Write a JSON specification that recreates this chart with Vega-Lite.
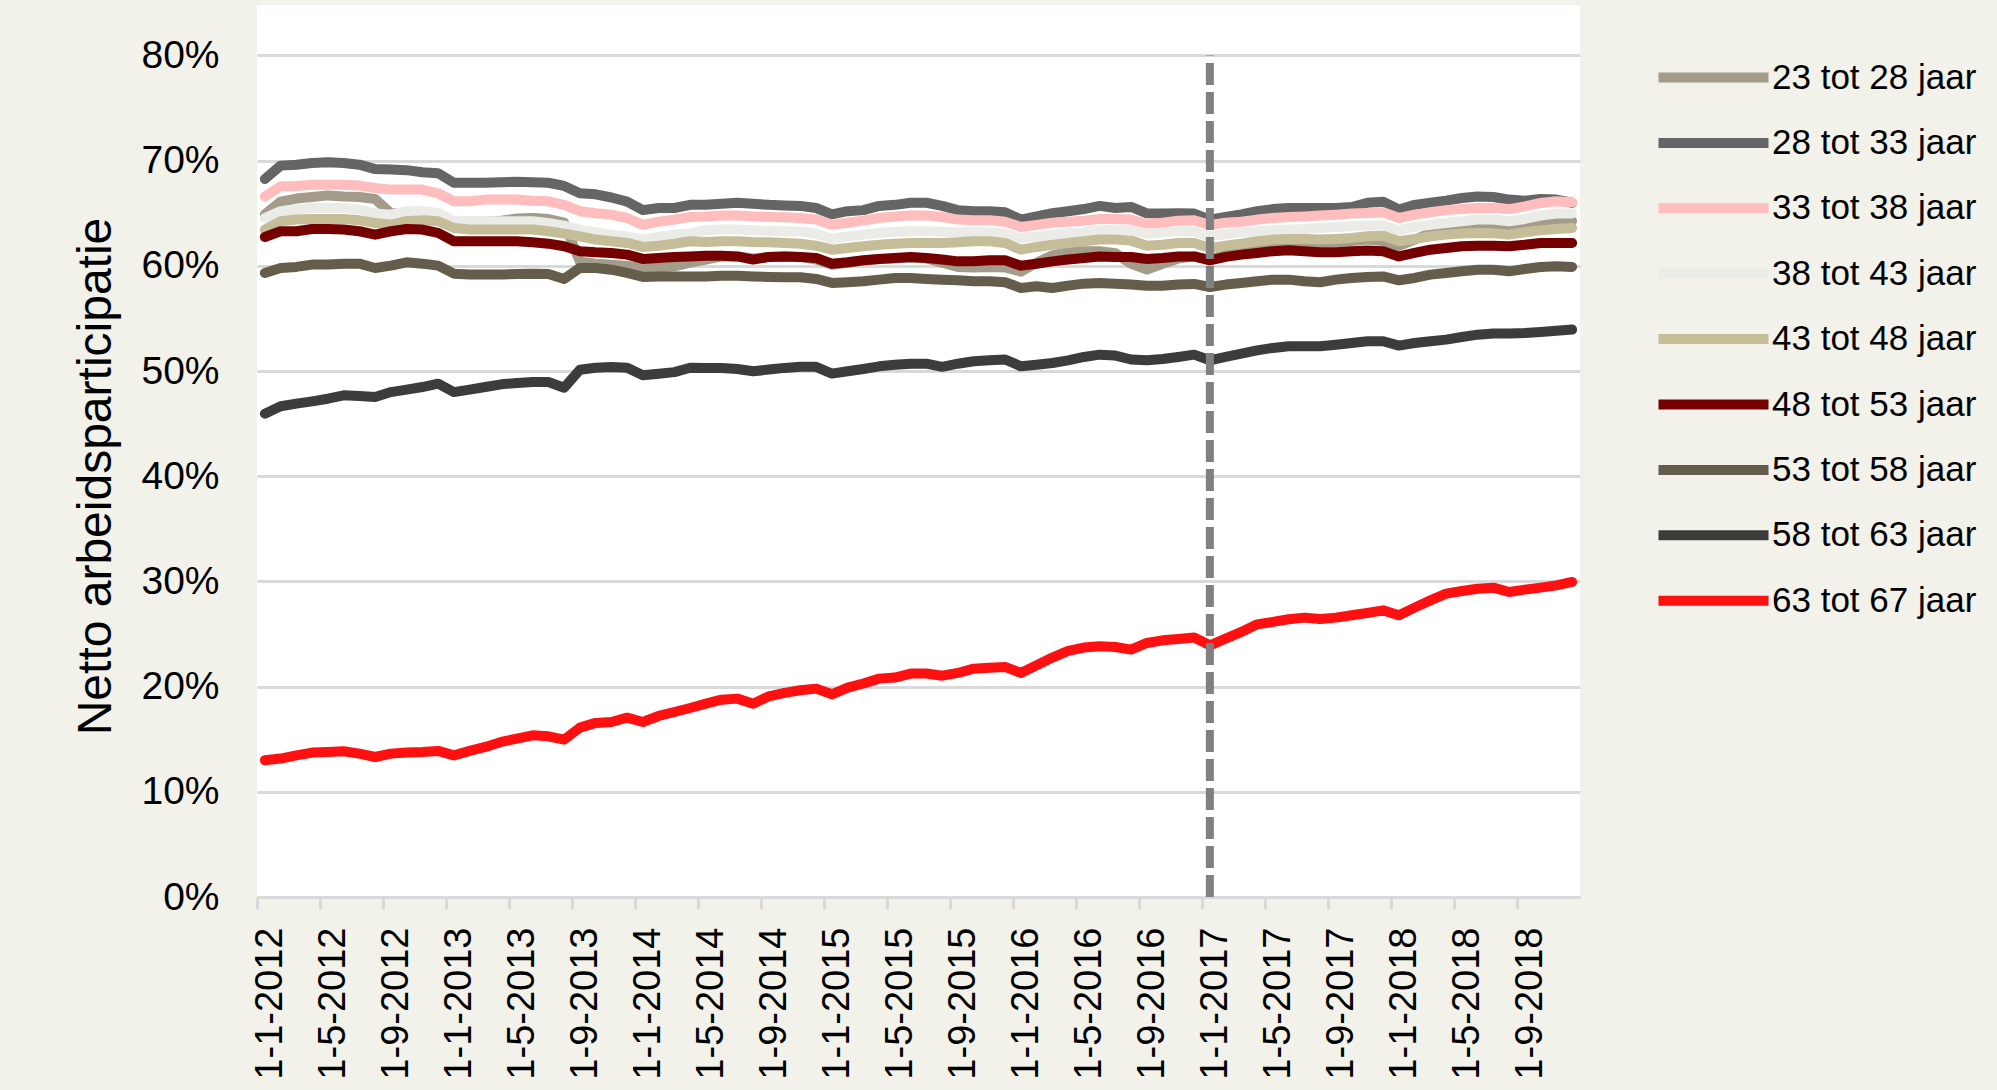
{
  "$schema": "https://vega.github.io/schema/vega-lite/v6.json",
  "width": 1323,
  "height": 892,
  "autosize": {"type": "none"},
  "padding": {"left": 257, "top": 5, "right": 417, "bottom": 193},
  "background": "#F2F1EA",
  "config": {
    "view": {"fill": "#FFFFFF", "stroke": null},
    "font": "Liberation Sans"
  },
  "datasets": {
    "reeks": [
      {"maand":"2012-01","23 tot 28 jaar":64.9,"28 tot 33 jaar":68.26,"33 tot 38 jaar":66.6,"38 tot 43 jaar":64.55,"43 tot 48 jaar":63.45,"48 tot 53 jaar":62.75,"53 tot 58 jaar":59.33,"58 tot 63 jaar":45.95,"63 tot 67 jaar":13.0},
      {"maand":"2012-02","23 tot 28 jaar":66.1,"28 tot 33 jaar":69.53,"33 tot 38 jaar":67.56,"38 tot 43 jaar":65.2,"43 tot 48 jaar":64.24,"48 tot 53 jaar":63.29,"53 tot 58 jaar":59.8,"58 tot 63 jaar":46.65,"63 tot 67 jaar":13.16},
      {"maand":"2012-03","23 tot 28 jaar":66.4,"28 tot 33 jaar":69.62,"33 tot 38 jaar":67.6,"38 tot 43 jaar":65.35,"43 tot 48 jaar":64.4,"48 tot 53 jaar":63.29,"53 tot 58 jaar":59.9,"58 tot 63 jaar":46.9,"63 tot 67 jaar":13.47},
      {"maand":"2012-04","23 tot 28 jaar":66.55,"28 tot 33 jaar":69.78,"33 tot 38 jaar":67.72,"38 tot 43 jaar":65.5,"43 tot 48 jaar":64.46,"48 tot 53 jaar":63.5,"53 tot 58 jaar":60.12,"58 tot 63 jaar":47.12,"63 tot 67 jaar":13.73},
      {"maand":"2012-05","23 tot 28 jaar":66.7,"28 tot 33 jaar":69.85,"33 tot 38 jaar":67.72,"38 tot 43 jaar":65.5,"43 tot 48 jaar":64.46,"48 tot 53 jaar":63.5,"53 tot 58 jaar":60.12,"58 tot 63 jaar":47.37,"63 tot 67 jaar":13.79},
      {"maand":"2012-06","23 tot 28 jaar":66.6,"28 tot 33 jaar":69.78,"33 tot 38 jaar":67.72,"38 tot 43 jaar":65.5,"43 tot 48 jaar":64.46,"48 tot 53 jaar":63.45,"53 tot 58 jaar":60.21,"58 tot 63 jaar":47.69,"63 tot 67 jaar":13.85},
      {"maand":"2012-07","23 tot 28 jaar":66.55,"28 tot 33 jaar":69.62,"33 tot 38 jaar":67.63,"38 tot 43 jaar":65.35,"43 tot 48 jaar":64.33,"48 tot 53 jaar":63.29,"53 tot 58 jaar":60.21,"58 tot 63 jaar":47.63,"63 tot 67 jaar":13.63},
      {"maand":"2012-08","23 tot 28 jaar":66.35,"28 tot 33 jaar":69.2,"33 tot 38 jaar":67.4,"38 tot 43 jaar":64.97,"43 tot 48 jaar":64.08,"48 tot 53 jaar":62.97,"53 tot 58 jaar":59.8,"58 tot 63 jaar":47.53,"63 tot 67 jaar":13.31},
      {"maand":"2012-09","23 tot 28 jaar":65.0,"28 tot 33 jaar":69.15,"33 tot 38 jaar":67.25,"38 tot 43 jaar":64.87,"43 tot 48 jaar":63.92,"48 tot 53 jaar":63.29,"53 tot 58 jaar":60.02,"58 tot 63 jaar":48.0,"63 tot 67 jaar":13.63},
      {"maand":"2012-10","23 tot 28 jaar":65.0,"28 tot 33 jaar":69.1,"33 tot 38 jaar":67.25,"38 tot 43 jaar":65.2,"43 tot 48 jaar":64.24,"48 tot 53 jaar":63.5,"53 tot 58 jaar":60.34,"58 tot 63 jaar":48.23,"63 tot 67 jaar":13.73},
      {"maand":"2012-11","23 tot 28 jaar":64.9,"28 tot 33 jaar":68.9,"33 tot 38 jaar":67.25,"38 tot 43 jaar":65.2,"43 tot 48 jaar":64.33,"48 tot 53 jaar":63.45,"53 tot 58 jaar":60.21,"58 tot 63 jaar":48.48,"63 tot 67 jaar":13.79},
      {"maand":"2012-12","23 tot 28 jaar":64.8,"28 tot 33 jaar":68.8,"33 tot 38 jaar":66.9,"38 tot 43 jaar":65.03,"43 tot 48 jaar":64.24,"48 tot 53 jaar":63.13,"53 tot 58 jaar":60.02,"58 tot 63 jaar":48.8,"63 tot 67 jaar":13.89},
      {"maand":"2013-01","23 tot 28 jaar":64.2,"28 tot 33 jaar":67.9,"33 tot 38 jaar":66.14,"38 tot 43 jaar":64.24,"43 tot 48 jaar":63.6,"48 tot 53 jaar":62.34,"53 tot 58 jaar":59.26,"58 tot 63 jaar":48.0,"63 tot 67 jaar":13.47},
      {"maand":"2013-02","23 tot 28 jaar":64.2,"28 tot 33 jaar":67.9,"33 tot 38 jaar":66.14,"38 tot 43 jaar":64.24,"43 tot 48 jaar":63.45,"48 tot 53 jaar":62.34,"53 tot 58 jaar":59.17,"58 tot 63 jaar":48.23,"63 tot 67 jaar":13.89},
      {"maand":"2013-03","23 tot 28 jaar":64.2,"28 tot 33 jaar":67.9,"33 tot 38 jaar":66.3,"38 tot 43 jaar":64.24,"43 tot 48 jaar":63.45,"48 tot 53 jaar":62.34,"53 tot 58 jaar":59.17,"58 tot 63 jaar":48.48,"63 tot 67 jaar":14.27},
      {"maand":"2013-04","23 tot 28 jaar":64.3,"28 tot 33 jaar":67.95,"33 tot 38 jaar":66.3,"38 tot 43 jaar":64.24,"43 tot 48 jaar":63.45,"48 tot 53 jaar":62.34,"53 tot 58 jaar":59.17,"58 tot 63 jaar":48.74,"63 tot 67 jaar":14.74},
      {"maand":"2013-05","23 tot 28 jaar":64.5,"28 tot 33 jaar":68.0,"33 tot 38 jaar":66.3,"38 tot 43 jaar":64.24,"43 tot 48 jaar":63.45,"48 tot 53 jaar":62.34,"53 tot 58 jaar":59.23,"58 tot 63 jaar":48.87,"63 tot 67 jaar":15.06},
      {"maand":"2013-06","23 tot 28 jaar":64.55,"28 tot 33 jaar":67.95,"33 tot 38 jaar":66.2,"38 tot 43 jaar":64.24,"43 tot 48 jaar":63.45,"48 tot 53 jaar":62.24,"53 tot 58 jaar":59.26,"58 tot 63 jaar":48.96,"63 tot 67 jaar":15.37},
      {"maand":"2013-07","23 tot 28 jaar":64.45,"28 tot 33 jaar":67.9,"33 tot 38 jaar":66.14,"38 tot 43 jaar":64.08,"43 tot 48 jaar":63.29,"48 tot 53 jaar":62.11,"53 tot 58 jaar":59.23,"58 tot 63 jaar":48.96,"63 tot 67 jaar":15.28},
      {"maand":"2013-08","23 tot 28 jaar":64.1,"28 tot 33 jaar":67.6,"33 tot 38 jaar":65.8,"38 tot 43 jaar":63.83,"43 tot 48 jaar":63.07,"48 tot 53 jaar":61.86,"53 tot 58 jaar":58.76,"58 tot 63 jaar":48.42,"63 tot 67 jaar":14.96},
      {"maand":"2013-09","23 tot 28 jaar":60.4,"28 tot 33 jaar":66.9,"33 tot 38 jaar":65.2,"38 tot 43 jaar":63.45,"43 tot 48 jaar":62.81,"48 tot 53 jaar":61.39,"53 tot 58 jaar":59.8,"58 tot 63 jaar":50.13,"63 tot 67 jaar":16.1},
      {"maand":"2013-10","23 tot 28 jaar":60.2,"28 tot 33 jaar":66.8,"33 tot 38 jaar":65.0,"38 tot 43 jaar":63.2,"43 tot 48 jaar":62.5,"48 tot 53 jaar":61.29,"53 tot 58 jaar":59.8,"58 tot 63 jaar":50.32,"63 tot 67 jaar":16.55},
      {"maand":"2013-11","23 tot 28 jaar":60.1,"28 tot 33 jaar":66.5,"33 tot 38 jaar":64.87,"38 tot 43 jaar":62.97,"43 tot 48 jaar":62.34,"48 tot 53 jaar":61.23,"53 tot 58 jaar":59.64,"58 tot 63 jaar":50.38,"63 tot 67 jaar":16.64},
      {"maand":"2013-12","23 tot 28 jaar":60.0,"28 tot 33 jaar":66.1,"33 tot 38 jaar":64.55,"38 tot 43 jaar":62.8,"43 tot 48 jaar":62.18,"48 tot 53 jaar":61.07,"53 tot 58 jaar":59.33,"58 tot 63 jaar":50.32,"63 tot 67 jaar":17.05},
      {"maand":"2014-01","23 tot 28 jaar":59.8,"28 tot 33 jaar":65.3,"33 tot 38 jaar":63.9,"38 tot 43 jaar":62.5,"43 tot 48 jaar":61.8,"48 tot 53 jaar":60.66,"53 tot 58 jaar":58.95,"58 tot 63 jaar":49.6,"63 tot 67 jaar":16.64},
      {"maand":"2014-02","23 tot 28 jaar":59.8,"28 tot 33 jaar":65.5,"33 tot 38 jaar":64.2,"38 tot 43 jaar":62.75,"43 tot 48 jaar":61.92,"48 tot 53 jaar":60.75,"53 tot 58 jaar":59.0,"58 tot 63 jaar":49.75,"63 tot 67 jaar":17.21},
      {"maand":"2014-03","23 tot 28 jaar":59.95,"28 tot 33 jaar":65.5,"33 tot 38 jaar":64.4,"38 tot 43 jaar":62.97,"43 tot 48 jaar":62.1,"48 tot 53 jaar":60.85,"53 tot 58 jaar":59.0,"58 tot 63 jaar":49.9,"63 tot 67 jaar":17.59},
      {"maand":"2014-04","23 tot 28 jaar":60.3,"28 tot 33 jaar":65.8,"33 tot 38 jaar":64.65,"38 tot 43 jaar":63.1,"43 tot 48 jaar":62.34,"48 tot 53 jaar":60.9,"53 tot 58 jaar":59.0,"58 tot 63 jaar":50.32,"63 tot 67 jaar":17.97},
      {"maand":"2014-05","23 tot 28 jaar":60.6,"28 tot 33 jaar":65.8,"33 tot 38 jaar":64.7,"38 tot 43 jaar":63.38,"43 tot 48 jaar":62.27,"48 tot 53 jaar":60.97,"53 tot 58 jaar":59.0,"58 tot 63 jaar":50.3,"63 tot 67 jaar":18.38},
      {"maand":"2014-06","23 tot 28 jaar":60.9,"28 tot 33 jaar":65.9,"33 tot 38 jaar":64.8,"38 tot 43 jaar":63.45,"43 tot 48 jaar":62.34,"48 tot 53 jaar":60.97,"53 tot 58 jaar":59.07,"58 tot 63 jaar":50.3,"63 tot 67 jaar":18.76},
      {"maand":"2014-07","23 tot 28 jaar":60.9,"28 tot 33 jaar":66.0,"33 tot 38 jaar":64.8,"38 tot 43 jaar":63.45,"43 tot 48 jaar":62.34,"48 tot 53 jaar":60.9,"53 tot 58 jaar":59.07,"58 tot 63 jaar":50.2,"63 tot 67 jaar":18.86},
      {"maand":"2014-08","23 tot 28 jaar":60.7,"28 tot 33 jaar":65.9,"33 tot 38 jaar":64.7,"38 tot 43 jaar":63.38,"43 tot 48 jaar":62.27,"48 tot 53 jaar":60.6,"53 tot 58 jaar":59.0,"58 tot 63 jaar":49.98,"63 tot 67 jaar":18.38},
      {"maand":"2014-09","23 tot 28 jaar":60.85,"28 tot 33 jaar":65.8,"33 tot 38 jaar":64.65,"38 tot 43 jaar":63.32,"43 tot 48 jaar":62.24,"48 tot 53 jaar":60.85,"53 tot 58 jaar":58.95,"58 tot 63 jaar":50.14,"63 tot 67 jaar":19.08},
      {"maand":"2014-10","23 tot 28 jaar":60.9,"28 tot 33 jaar":65.75,"33 tot 38 jaar":64.62,"38 tot 43 jaar":63.29,"43 tot 48 jaar":62.18,"48 tot 53 jaar":60.9,"53 tot 58 jaar":58.92,"58 tot 63 jaar":50.3,"63 tot 67 jaar":19.4},
      {"maand":"2014-11","23 tot 28 jaar":60.85,"28 tot 33 jaar":65.7,"33 tot 38 jaar":64.55,"38 tot 43 jaar":63.27,"43 tot 48 jaar":62.11,"48 tot 53 jaar":60.85,"53 tot 58 jaar":58.92,"58 tot 63 jaar":50.4,"63 tot 67 jaar":19.65},
      {"maand":"2014-12","23 tot 28 jaar":60.6,"28 tot 33 jaar":65.5,"33 tot 38 jaar":64.4,"38 tot 43 jaar":63.07,"43 tot 48 jaar":61.92,"48 tot 53 jaar":60.75,"53 tot 58 jaar":58.76,"58 tot 63 jaar":50.4,"63 tot 67 jaar":19.81},
      {"maand":"2015-01","23 tot 28 jaar":60.1,"28 tot 33 jaar":64.9,"33 tot 38 jaar":63.9,"38 tot 43 jaar":62.56,"43 tot 48 jaar":61.54,"48 tot 53 jaar":60.2,"53 tot 58 jaar":58.38,"58 tot 63 jaar":49.76,"63 tot 67 jaar":19.27},
      {"maand":"2015-02","23 tot 28 jaar":60.3,"28 tot 33 jaar":65.2,"33 tot 38 jaar":64.1,"38 tot 43 jaar":62.8,"43 tot 48 jaar":61.7,"48 tot 53 jaar":60.34,"53 tot 58 jaar":58.44,"58 tot 63 jaar":49.98,"63 tot 67 jaar":19.9},
      {"maand":"2015-03","23 tot 28 jaar":60.5,"28 tot 33 jaar":65.3,"33 tot 38 jaar":64.3,"38 tot 43 jaar":62.97,"43 tot 48 jaar":61.86,"48 tot 53 jaar":60.53,"53 tot 58 jaar":58.53,"58 tot 63 jaar":50.2,"63 tot 67 jaar":20.3},
      {"maand":"2015-04","23 tot 28 jaar":60.65,"28 tot 33 jaar":65.7,"33 tot 38 jaar":64.55,"38 tot 43 jaar":63.13,"43 tot 48 jaar":62.0,"48 tot 53 jaar":60.66,"53 tot 58 jaar":58.69,"58 tot 63 jaar":50.45,"63 tot 67 jaar":20.76},
      {"maand":"2015-05","23 tot 28 jaar":60.7,"28 tot 33 jaar":65.8,"33 tot 38 jaar":64.7,"38 tot 43 jaar":63.25,"43 tot 48 jaar":62.11,"48 tot 53 jaar":60.75,"53 tot 58 jaar":58.85,"58 tot 63 jaar":50.6,"63 tot 67 jaar":20.86},
      {"maand":"2015-06","23 tot 28 jaar":60.8,"28 tot 33 jaar":66.0,"33 tot 38 jaar":64.8,"38 tot 43 jaar":63.29,"43 tot 48 jaar":62.18,"48 tot 53 jaar":60.85,"53 tot 58 jaar":58.85,"58 tot 63 jaar":50.7,"63 tot 67 jaar":21.24},
      {"maand":"2015-07","23 tot 28 jaar":60.7,"28 tot 33 jaar":66.0,"33 tot 38 jaar":64.8,"38 tot 43 jaar":63.29,"43 tot 48 jaar":62.18,"48 tot 53 jaar":60.75,"53 tot 58 jaar":58.76,"58 tot 63 jaar":50.7,"63 tot 67 jaar":21.24},
      {"maand":"2015-08","23 tot 28 jaar":60.3,"28 tot 33 jaar":65.7,"33 tot 38 jaar":64.65,"38 tot 43 jaar":63.25,"43 tot 48 jaar":62.18,"48 tot 53 jaar":60.6,"53 tot 58 jaar":58.69,"58 tot 63 jaar":50.4,"63 tot 67 jaar":21.04},
      {"maand":"2015-09","23 tot 28 jaar":59.9,"28 tot 33 jaar":65.3,"33 tot 38 jaar":64.4,"38 tot 43 jaar":63.2,"43 tot 48 jaar":62.24,"48 tot 53 jaar":60.43,"53 tot 58 jaar":58.63,"58 tot 63 jaar":50.7,"63 tot 67 jaar":21.3},
      {"maand":"2015-10","23 tot 28 jaar":59.85,"28 tot 33 jaar":65.2,"33 tot 38 jaar":64.33,"38 tot 43 jaar":63.2,"43 tot 48 jaar":62.34,"48 tot 53 jaar":60.43,"53 tot 58 jaar":58.53,"58 tot 63 jaar":50.93,"63 tot 67 jaar":21.71},
      {"maand":"2015-11","23 tot 28 jaar":59.9,"28 tot 33 jaar":65.2,"33 tot 38 jaar":64.33,"38 tot 43 jaar":63.2,"43 tot 48 jaar":62.34,"48 tot 53 jaar":60.53,"53 tot 58 jaar":58.53,"58 tot 63 jaar":51.02,"63 tot 67 jaar":21.8},
      {"maand":"2015-12","23 tot 28 jaar":59.85,"28 tot 33 jaar":65.1,"33 tot 38 jaar":64.2,"38 tot 43 jaar":63.07,"43 tot 48 jaar":62.18,"48 tot 53 jaar":60.53,"53 tot 58 jaar":58.44,"58 tot 63 jaar":51.1,"63 tot 67 jaar":21.87},
      {"maand":"2016-01","23 tot 28 jaar":59.45,"28 tot 33 jaar":64.4,"33 tot 38 jaar":63.7,"38 tot 43 jaar":62.65,"43 tot 48 jaar":61.54,"48 tot 53 jaar":60.02,"53 tot 58 jaar":57.9,"58 tot 63 jaar":50.45,"63 tot 67 jaar":21.3},
      {"maand":"2016-02","23 tot 28 jaar":60.3,"28 tot 33 jaar":64.7,"33 tot 38 jaar":63.9,"38 tot 43 jaar":62.8,"43 tot 48 jaar":61.8,"48 tot 53 jaar":60.2,"53 tot 58 jaar":58.06,"58 tot 63 jaar":50.6,"63 tot 67 jaar":22.03},
      {"maand":"2016-03","23 tot 28 jaar":61.0,"28 tot 33 jaar":65.0,"33 tot 38 jaar":64.1,"38 tot 43 jaar":62.97,"43 tot 48 jaar":62.0,"48 tot 53 jaar":60.43,"53 tot 58 jaar":57.9,"58 tot 63 jaar":50.77,"63 tot 67 jaar":22.76},
      {"maand":"2016-04","23 tot 28 jaar":61.3,"28 tot 33 jaar":65.2,"33 tot 38 jaar":64.2,"38 tot 43 jaar":63.07,"43 tot 48 jaar":62.18,"48 tot 53 jaar":60.6,"53 tot 58 jaar":58.12,"58 tot 63 jaar":51.02,"63 tot 67 jaar":23.39},
      {"maand":"2016-05","23 tot 28 jaar":61.4,"28 tot 33 jaar":65.4,"33 tot 38 jaar":64.3,"38 tot 43 jaar":63.2,"43 tot 48 jaar":62.34,"48 tot 53 jaar":60.75,"53 tot 58 jaar":58.31,"58 tot 63 jaar":51.34,"63 tot 67 jaar":23.71},
      {"maand":"2016-06","23 tot 28 jaar":61.4,"28 tot 33 jaar":65.7,"33 tot 38 jaar":64.45,"38 tot 43 jaar":63.38,"43 tot 48 jaar":62.5,"48 tot 53 jaar":60.9,"53 tot 58 jaar":58.38,"58 tot 63 jaar":51.56,"63 tot 67 jaar":23.83},
      {"maand":"2016-07","23 tot 28 jaar":61.2,"28 tot 33 jaar":65.5,"33 tot 38 jaar":64.45,"38 tot 43 jaar":63.45,"43 tot 48 jaar":62.5,"48 tot 53 jaar":60.85,"53 tot 58 jaar":58.31,"58 tot 63 jaar":51.47,"63 tot 67 jaar":23.77},
      {"maand":"2016-08","23 tot 28 jaar":60.2,"28 tot 33 jaar":65.6,"33 tot 38 jaar":64.4,"38 tot 43 jaar":63.4,"43 tot 48 jaar":62.4,"48 tot 53 jaar":60.85,"53 tot 58 jaar":58.22,"58 tot 63 jaar":51.1,"63 tot 67 jaar":23.52},
      {"maand":"2016-09","23 tot 28 jaar":59.65,"28 tot 33 jaar":65.0,"33 tot 38 jaar":64.0,"38 tot 43 jaar":63.03,"43 tot 48 jaar":61.92,"48 tot 53 jaar":60.66,"53 tot 58 jaar":58.12,"58 tot 63 jaar":51.02,"63 tot 67 jaar":24.15},
      {"maand":"2016-10","23 tot 28 jaar":60.2,"28 tot 33 jaar":64.97,"33 tot 38 jaar":64.1,"38 tot 43 jaar":63.2,"43 tot 48 jaar":62.0,"48 tot 53 jaar":60.75,"53 tot 58 jaar":58.12,"58 tot 63 jaar":51.15,"63 tot 67 jaar":24.4},
      {"maand":"2016-11","23 tot 28 jaar":60.7,"28 tot 33 jaar":65.0,"33 tot 38 jaar":64.3,"38 tot 43 jaar":63.29,"43 tot 48 jaar":62.18,"48 tot 53 jaar":60.9,"53 tot 58 jaar":58.22,"58 tot 63 jaar":51.34,"63 tot 67 jaar":24.53},
      {"maand":"2016-12","23 tot 28 jaar":60.9,"28 tot 33 jaar":64.97,"33 tot 38 jaar":64.33,"38 tot 43 jaar":63.27,"43 tot 48 jaar":62.18,"48 tot 53 jaar":60.9,"53 tot 58 jaar":58.28,"58 tot 63 jaar":51.56,"63 tot 67 jaar":24.66},
      {"maand":"2017-01","23 tot 28 jaar":60.6,"28 tot 33 jaar":64.4,"33 tot 38 jaar":63.9,"38 tot 43 jaar":62.8,"43 tot 48 jaar":61.7,"48 tot 53 jaar":60.53,"53 tot 58 jaar":57.99,"58 tot 63 jaar":51.02,"63 tot 67 jaar":23.93},
      {"maand":"2017-02","23 tot 28 jaar":61.05,"28 tot 33 jaar":64.65,"33 tot 38 jaar":64.1,"38 tot 43 jaar":63.03,"43 tot 48 jaar":61.92,"48 tot 53 jaar":60.85,"53 tot 58 jaar":58.22,"58 tot 63 jaar":51.34,"63 tot 67 jaar":24.56},
      {"maand":"2017-03","23 tot 28 jaar":61.4,"28 tot 33 jaar":64.9,"33 tot 38 jaar":64.2,"38 tot 43 jaar":63.2,"43 tot 48 jaar":62.11,"48 tot 53 jaar":61.07,"53 tot 58 jaar":58.38,"58 tot 63 jaar":51.66,"63 tot 67 jaar":25.2},
      {"maand":"2017-04","23 tot 28 jaar":61.7,"28 tot 33 jaar":65.2,"33 tot 38 jaar":64.4,"38 tot 43 jaar":63.29,"43 tot 48 jaar":62.34,"48 tot 53 jaar":61.23,"53 tot 58 jaar":58.53,"58 tot 63 jaar":51.97,"63 tot 67 jaar":25.92},
      {"maand":"2017-05","23 tot 28 jaar":61.9,"28 tot 33 jaar":65.4,"33 tot 38 jaar":64.55,"38 tot 43 jaar":63.38,"43 tot 48 jaar":62.5,"48 tot 53 jaar":61.39,"53 tot 58 jaar":58.69,"58 tot 63 jaar":52.2,"63 tot 67 jaar":26.15},
      {"maand":"2017-06","23 tot 28 jaar":62.1,"28 tot 33 jaar":65.5,"33 tot 38 jaar":64.65,"38 tot 43 jaar":63.45,"43 tot 48 jaar":62.56,"48 tot 53 jaar":61.48,"53 tot 58 jaar":58.69,"58 tot 63 jaar":52.35,"63 tot 67 jaar":26.4},
      {"maand":"2017-07","23 tot 28 jaar":62.2,"28 tot 33 jaar":65.5,"33 tot 38 jaar":64.7,"38 tot 43 jaar":63.5,"43 tot 48 jaar":62.56,"48 tot 53 jaar":61.39,"53 tot 58 jaar":58.53,"58 tot 63 jaar":52.35,"63 tot 67 jaar":26.56},
      {"maand":"2017-08","23 tot 28 jaar":62.2,"28 tot 33 jaar":65.5,"33 tot 38 jaar":64.78,"38 tot 43 jaar":63.6,"43 tot 48 jaar":62.5,"48 tot 53 jaar":61.29,"53 tot 58 jaar":58.44,"58 tot 63 jaar":52.35,"63 tot 67 jaar":26.43},
      {"maand":"2017-09","23 tot 28 jaar":62.25,"28 tot 33 jaar":65.5,"33 tot 38 jaar":64.87,"38 tot 43 jaar":63.7,"43 tot 48 jaar":62.56,"48 tot 53 jaar":61.29,"53 tot 58 jaar":58.69,"58 tot 63 jaar":52.5,"63 tot 67 jaar":26.56},
      {"maand":"2017-10","23 tot 28 jaar":62.35,"28 tot 33 jaar":65.6,"33 tot 38 jaar":64.97,"38 tot 43 jaar":63.76,"43 tot 48 jaar":62.65,"48 tot 53 jaar":61.39,"53 tot 58 jaar":58.85,"58 tot 63 jaar":52.67,"63 tot 67 jaar":26.78},
      {"maand":"2017-11","23 tot 28 jaar":62.5,"28 tot 33 jaar":66.0,"33 tot 38 jaar":65.03,"38 tot 43 jaar":63.83,"43 tot 48 jaar":62.81,"48 tot 53 jaar":61.45,"53 tot 58 jaar":58.95,"58 tot 63 jaar":52.83,"63 tot 67 jaar":27.0},
      {"maand":"2017-12","23 tot 28 jaar":62.35,"28 tot 33 jaar":66.1,"33 tot 38 jaar":65.1,"38 tot 43 jaar":63.83,"43 tot 48 jaar":62.87,"48 tot 53 jaar":61.39,"53 tot 58 jaar":59.0,"58 tot 63 jaar":52.83,"63 tot 67 jaar":27.25},
      {"maand":"2018-01","23 tot 28 jaar":61.9,"28 tot 33 jaar":65.35,"33 tot 38 jaar":64.55,"38 tot 43 jaar":63.38,"43 tot 48 jaar":62.34,"48 tot 53 jaar":60.9,"53 tot 58 jaar":58.63,"58 tot 63 jaar":52.42,"63 tot 67 jaar":26.78},
      {"maand":"2018-02","23 tot 28 jaar":62.5,"28 tot 33 jaar":65.8,"33 tot 38 jaar":64.87,"38 tot 43 jaar":63.7,"43 tot 48 jaar":62.56,"48 tot 53 jaar":61.23,"53 tot 58 jaar":58.85,"58 tot 63 jaar":52.67,"63 tot 67 jaar":27.51},
      {"maand":"2018-03","23 tot 28 jaar":63.1,"28 tot 33 jaar":66.0,"33 tot 38 jaar":65.1,"38 tot 43 jaar":63.9,"43 tot 48 jaar":62.81,"48 tot 53 jaar":61.54,"53 tot 58 jaar":59.17,"58 tot 63 jaar":52.83,"63 tot 67 jaar":28.2},
      {"maand":"2018-04","23 tot 28 jaar":63.5,"28 tot 33 jaar":66.2,"33 tot 38 jaar":65.3,"38 tot 43 jaar":64.08,"43 tot 48 jaar":62.97,"48 tot 53 jaar":61.7,"53 tot 58 jaar":59.33,"58 tot 63 jaar":52.99,"63 tot 67 jaar":28.84},
      {"maand":"2018-05","23 tot 28 jaar":63.6,"28 tot 33 jaar":66.45,"33 tot 38 jaar":65.4,"38 tot 43 jaar":64.24,"43 tot 48 jaar":63.07,"48 tot 53 jaar":61.86,"53 tot 58 jaar":59.48,"58 tot 63 jaar":53.24,"63 tot 67 jaar":29.09},
      {"maand":"2018-06","23 tot 28 jaar":63.7,"28 tot 33 jaar":66.6,"33 tot 38 jaar":65.5,"38 tot 43 jaar":64.4,"43 tot 48 jaar":63.13,"48 tot 53 jaar":61.92,"53 tot 58 jaar":59.64,"58 tot 63 jaar":53.46,"63 tot 67 jaar":29.31},
      {"maand":"2018-07","23 tot 28 jaar":63.8,"28 tot 33 jaar":66.55,"33 tot 38 jaar":65.5,"38 tot 43 jaar":64.4,"43 tot 48 jaar":63.1,"48 tot 53 jaar":61.92,"53 tot 58 jaar":59.64,"58 tot 63 jaar":53.56,"63 tot 67 jaar":29.41},
      {"maand":"2018-08","23 tot 28 jaar":63.7,"28 tot 33 jaar":66.3,"33 tot 38 jaar":65.4,"38 tot 43 jaar":64.24,"43 tot 48 jaar":62.97,"48 tot 53 jaar":61.86,"53 tot 58 jaar":59.48,"58 tot 63 jaar":53.56,"63 tot 67 jaar":29.0},
      {"maand":"2018-09","23 tot 28 jaar":63.9,"28 tot 33 jaar":66.2,"33 tot 38 jaar":65.66,"38 tot 43 jaar":64.46,"43 tot 48 jaar":63.19,"48 tot 53 jaar":62.0,"53 tot 58 jaar":59.7,"58 tot 63 jaar":53.62,"63 tot 67 jaar":29.22},
      {"maand":"2018-10","23 tot 28 jaar":64.1,"28 tot 33 jaar":66.35,"33 tot 38 jaar":65.98,"38 tot 43 jaar":64.78,"43 tot 48 jaar":63.38,"48 tot 53 jaar":62.18,"53 tot 58 jaar":59.9,"58 tot 63 jaar":53.72,"63 tot 67 jaar":29.41},
      {"maand":"2018-11","23 tot 28 jaar":64.2,"28 tot 33 jaar":66.3,"33 tot 38 jaar":66.14,"38 tot 43 jaar":64.97,"43 tot 48 jaar":63.5,"48 tot 53 jaar":62.18,"53 tot 58 jaar":59.96,"58 tot 63 jaar":53.84,"63 tot 67 jaar":29.63},
      {"maand":"2018-12","23 tot 28 jaar":64.25,"28 tot 33 jaar":66.0,"33 tot 38 jaar":66.04,"38 tot 43 jaar":64.97,"43 tot 48 jaar":63.6,"48 tot 53 jaar":62.18,"53 tot 58 jaar":59.9,"58 tot 63 jaar":53.94,"63 tot 67 jaar":29.95}
    ]
  },
  "layer": [
    {
      "data": {"name": "reeks"},
      "transform": [
        {"fold": ["23 tot 28 jaar","28 tot 33 jaar","33 tot 38 jaar","38 tot 43 jaar","43 tot 48 jaar","48 tot 53 jaar","53 tot 58 jaar","58 tot 63 jaar","63 tot 67 jaar"], "as": ["leeftijd", "waarde"]}
      ],
      "mark": {"type": "line", "strokeWidth": 10, "strokeCap": "round", "strokeJoin": "round"},
      "encoding": {
        "x": {
          "field": "maand", "type": "ordinal", "bandPosition": 0.5,
          "scale": {"type": "band", "paddingInner": 0, "paddingOuter": 0},
          "axis": {
            "values": ["2012-01","2012-05","2012-09","2013-01","2013-05","2013-09","2014-01","2014-05","2014-09","2015-01","2015-05","2015-09","2016-01","2016-05","2016-09","2017-01","2017-05","2017-09","2018-01","2018-05","2018-09"],
            "bandPosition": 0,
            "labelExpr": "'1-' + toNumber(substring(datum.value, 5, 7)) + '-' + substring(datum.value, 0, 4)",
            "labelAngle": -90,
            "labelFontSize": 38,
            "labelColor": "#000000",
            "labelPadding": 18,
            "labelOffset": 6,
            "tickSize": 12,
            "tickColor": "#D9D9D9",
            "tickWidth": 3,
            "domainColor": "#D9D9D9",
            "domainWidth": 3,
            "grid": false,
            "title": null
          }
        },
        "y": {
          "field": "waarde", "type": "quantitative",
          "scale": {"domain": [0, 84.8], "nice": false},
          "axis": {
            "values": [0,10,20,30,40,50,60,70,80],
            "labelExpr": "datum.value + '%'",
            "labelFontSize": 39,
            "labelColor": "#000000",
            "labelPadding": 38,
            "ticks": false,
            "domain": false,
            "grid": true,
            "gridColor": "#D9D9D9",
            "gridWidth": 3,
            "title": "Netto arbeidsparticipatie",
            "titleFontSize": 48,
            "titleFontWeight": "normal",
            "titleColor": "#000000",
            "titlePadding": 20,
            "titleY": 471
          }
        },
        "color": {
          "field": "leeftijd", "type": "nominal",
          "scale": {
            "domain": ["23 tot 28 jaar","28 tot 33 jaar","33 tot 38 jaar","38 tot 43 jaar","43 tot 48 jaar","48 tot 53 jaar","53 tot 58 jaar","58 tot 63 jaar","63 tot 67 jaar"],
            "range": ["#A39C8A","#656565","#FFBDBD","#EBEBE7","#C5BD98","#740000","#655D4C","#3C3C3C","#FF1010"]
          },
          "legend": {
            "orient": "none",
            "legendX": 1439,
            "legendY": 55,
            "title": null,
            "padding": 0,
            "symbolType": "M-5,0H5",
            "symbolSize": 484,
            "symbolStrokeWidth": 10,
            "labelFontSize": 35,
            "labelColor": "#000000",
            "labelOffset": 41,
            "labelLimit": 0,
            "rowPadding": 24.4
          }
        }
      }
    },
    {
      "data": {"values": [{"maand": "2017-01"}]},
      "mark": {"type": "rule", "color": "#808080", "strokeWidth": 8, "strokeDash": [22, 7]},
      "encoding": {
        "x": {"field": "maand", "type": "ordinal", "bandPosition": 0.5},
        "y": {"datum": 0, "type": "quantitative"},
        "y2": {"datum": 80}
      }
    }
  ]
}
